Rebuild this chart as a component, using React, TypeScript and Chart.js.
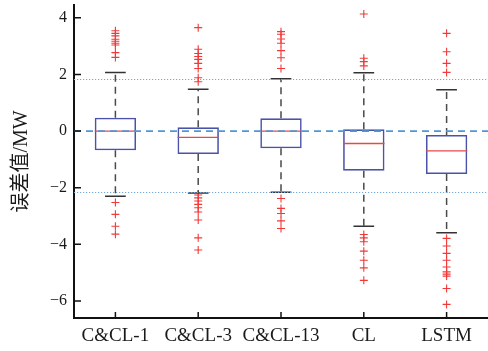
import React, { useEffect, useRef } from "react";
import { Chart, registerables } from "chart.js";

Chart.register(...registerables);

const categories = ["C&CL-1", "C&CL-3", "C&CL-13", "CL", "LSTM"];
const q1 = [-0.68, -0.81, -0.61, -1.4, -1.52];
const q3 = [0.47, 0.13, 0.45, 0.06, -0.14];
const medians = [0.0, -0.22, 0.0, -0.44, -0.7];
const whiskerLow = [-2.3, -2.19, -2.16, -3.36, -3.59];
const whiskerHigh = [2.07, 1.48, 1.85, 2.06, 1.46];

const outliersCCL1 = [3.54, 3.45, 3.36, 3.24, 3.17, 3.1, 3.04, 2.77, 2.6, -2.52, -2.94, -3.36, -3.64];
const outliersCCL3 = [3.65, 2.89, 2.74, 2.63, 2.53, 2.39, 2.21, 1.88, 1.74, -2.26, -2.36, -2.47, -2.59, -2.71, -2.86, -3.14, -3.77, -4.2];
const outliersCCL13 = [3.51, 3.42, 3.25, 3.1, 2.84, 2.59, 2.21, -2.38, -2.73, -2.91, -3.17, -3.44];
const outliersCL = [4.13, 2.57, 2.45, 2.3, -3.65, -3.77, -3.91, -4.24, -4.56, -4.83, -5.27];
const outliersLSTM = [3.45, 2.8, 2.39, 2.07, -3.79, -4.06, -4.32, -4.56, -4.8, -4.97, -5.05, -5.12, -5.56, -6.12];
const outlierGroups = [outliersCCL1, outliersCCL3, outliersCCL13, outliersCL, outliersLSTM];

const zeroLine = 0;
const upperBand = 1.85;
const lowerBand = -2.14;

const yMin = -6.6;
const yMax = 4.45;
const yTickValues = [-6, -4, -2, 0, 2, 4];
const yTitle = "误差值/MW";

const boxPlugin = {
  id: "boxExtras",
  afterDatasetsDraw(chart: any) {
    const ctx = chart.ctx;
    const xs = chart.scales.x;
    const ys = chart.scales.y;
    const area = chart.chartArea;
    const catW = (area.right - area.left) / categories.length;
    const boxHalf = catW * 0.25;
    const capHalf = catW * 0.125;
    ctx.save();
    categories.forEach((_, i) => {
      const cx = xs.getPixelForValue(i);
      ctx.strokeStyle = "#4a4a4a";
      ctx.lineWidth = 1.5;
      ctx.setLineDash([7, 5]);
      ctx.beginPath();
      ctx.moveTo(cx, ys.getPixelForValue(q3[i]));
      ctx.lineTo(cx, ys.getPixelForValue(whiskerHigh[i]));
      ctx.moveTo(cx, ys.getPixelForValue(q1[i]));
      ctx.lineTo(cx, ys.getPixelForValue(whiskerLow[i]));
      ctx.stroke();
      ctx.setLineDash([]);
      ctx.strokeStyle = "#333333";
      ctx.beginPath();
      const yh = ys.getPixelForValue(whiskerHigh[i]);
      const yl = ys.getPixelForValue(whiskerLow[i]);
      ctx.moveTo(cx - capHalf, yh);
      ctx.lineTo(cx + capHalf, yh);
      ctx.moveTo(cx - capHalf, yl);
      ctx.lineTo(cx + capHalf, yl);
      ctx.stroke();
      ctx.strokeStyle = "#e8484a";
      ctx.lineWidth = 1.3;
      const ym = ys.getPixelForValue(medians[i]);
      ctx.beginPath();
      ctx.moveTo(cx - boxHalf, ym);
      ctx.lineTo(cx + boxHalf, ym);
      ctx.stroke();
    });
    ctx.strokeStyle = "#4f98d6";
    ctx.lineWidth = 1.7;
    ctx.setLineDash([7, 5]);
    const y0 = ys.getPixelForValue(zeroLine);
    ctx.beginPath();
    ctx.moveTo(area.left, y0);
    ctx.lineTo(area.right, y0);
    ctx.stroke();
    ctx.strokeStyle = "#70a8de";
    ctx.lineWidth = 1;
    ctx.setLineDash([1.2, 1.8]);
    [upperBand, lowerBand].forEach((v) => {
      const yy = Math.round(ys.getPixelForValue(v)) + 0.5;
      ctx.beginPath();
      ctx.moveTo(area.left, yy);
      ctx.lineTo(area.right, yy);
      ctx.stroke();
    });
    ctx.setLineDash([]);
    ctx.restore();
  },
  afterDraw(chart: any) {
    const ctx = chart.ctx;
    const xs = chart.scales.x;
    const ys = chart.scales.y;
    const area = chart.chartArea;
    ctx.save();
    ctx.strokeStyle = "#111111";
    ctx.lineWidth = 1.5;
    ctx.beginPath();
    ys.ticks.forEach((t: any) => {
      const yy = ys.getPixelForValue(t.value);
      ctx.moveTo(area.left, yy);
      ctx.lineTo(area.left + 7, yy);
    });
    categories.forEach((_, i) => {
      const xx = xs.getPixelForValue(i);
      ctx.moveTo(xx, area.bottom);
      ctx.lineTo(xx, area.bottom - 6);
    });
    ctx.stroke();
    ctx.restore();
  },
};

export default function App() {
  const ref = useRef<HTMLCanvasElement | null>(null);
  useEffect(() => {
    if (!ref.current) return;
    const outlierPoints: any[] = [];
    outlierGroups.forEach((g, i) => g.forEach((v) => outlierPoints.push({ x: categories[i], y: v })));
    const chart = new Chart(ref.current, {
      type: "bar",
      data: {
        labels: categories,
        datasets: [
          {
            type: "bar",
            data: categories.map((_, i) => [q1[i], q3[i]]) as any,
            backgroundColor: "rgba(0,0,0,0)",
            borderColor: "#4a52aa",
            borderWidth: 1.6,
            borderSkipped: false,
            barPercentage: 0.5,
            categoryPercentage: 1,
          } as any,
          {
            type: "line",
            data: outlierPoints as any,
            showLine: false,
            pointStyle: "cross",
            pointRadius: 4,
            pointBorderColor: "#f03a3a",
            pointBorderWidth: 1.1,
            borderColor: "#f03a3a",
          } as any,
        ],
      },
      options: {
        responsive: false,
        animation: false,
        layout: { autoPadding: false, padding: { top: 5, right: 0, left: 0, bottom: 0 } },
        plugins: { legend: { display: false }, tooltip: { enabled: false } },
        scales: {
          x: {
            type: "category",
            offset: true,
            grid: { display: false, drawTicks: false },
            border: { display: true, color: "#111111", width: 2 },
            ticks: {
              padding: 7,
              color: "#1a1a1a",
              font: { family: "'Liberation Serif', 'Times New Roman', serif", size: 19 },
              maxRotation: 0,
              autoSkip: false,
            },
            afterFit: (s: any) => {
              s.height = 33;
              s.paddingLeft = 0;
              s.paddingRight = 0;
            },
          },
          y: {
            type: "linear",
            min: yMin,
            max: yMax,
            grid: { display: false, drawTicks: false },
            border: { display: true, color: "#111111", width: 2 },
            ticks: {
              padding: 7,
              color: "#1a1a1a",
              font: { family: "'Liberation Serif', 'Times New Roman', serif", size: 16 },
              callback: (v: any) => (v < 0 ? "\u2212" + Math.abs(v) : String(v)),
            },
            afterBuildTicks: (s: any) => {
              s.ticks = yTickValues.map((v) => ({ value: v }));
            },
            title: {
              display: true,
              text: yTitle,
              color: "#1a1a1a",
              padding: { top: 10, bottom: 0 },
              font: { family: "'Liberation Serif', 'Noto Sans CJK SC', serif", size: 20 },
            },
            afterFit: (s: any) => {
              s.width = 74;
              s.paddingTop = 0;
              s.paddingBottom = 0;
            },
          },
        },
      },
      plugins: [boxPlugin],
    });
    return () => chart.destroy();
  }, []);
  return (
    <canvas
      ref={ref}
      width={488}
      height={351}
      style={{ position: "fixed", left: 0, top: 0, width: 488, height: 351, display: "block", background: "#ffffff" }}
    />
  );
}
